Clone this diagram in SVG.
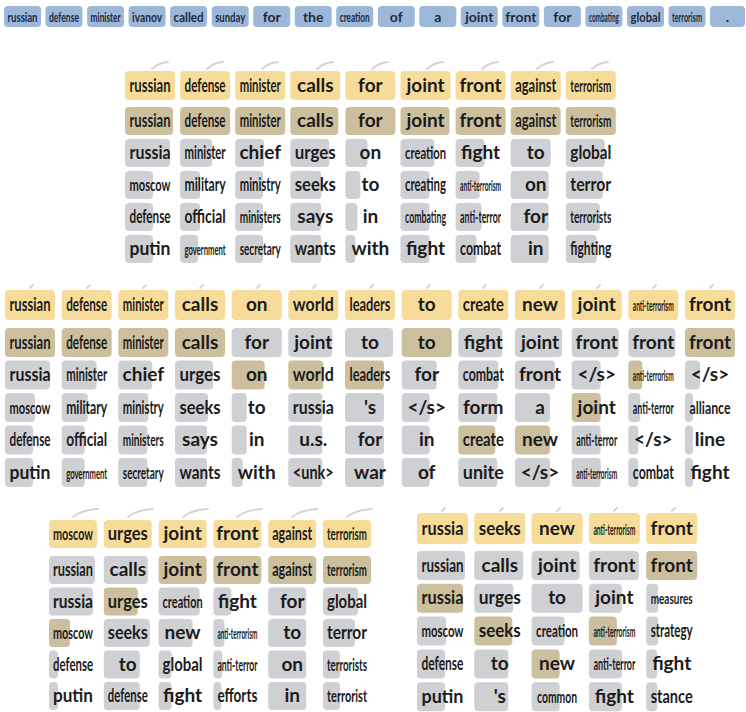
<svg xmlns="http://www.w3.org/2000/svg" width="746" height="712" viewBox="0 0 746 712">
<style>
rect{rx:4px;ry:4px}
.y{fill:#f6dc98}.t{fill:#cbbf9e}.g{fill:#cfd0d3}.bl{fill:#9db7d9}
text{font-family:Lato,"Liberation Sans",sans-serif;font-weight:700;text-anchor:middle;fill:#1b1b1b}
.w{font-size:19px}.m{font-size:17.5px}.s{font-size:15px}
.tw{font-size:14px;fill:#1d2a3e}.tm{font-size:13.5px;fill:#1d2a3e}.ts{font-size:12.5px;fill:#1d2a3e}
.arc{fill:none;stroke:#d3d3d3;stroke-width:1.8;stroke-linecap:round}
</style>
<rect width="746" height="712" fill="#ffffff" rx="0" ry="0" style="rx:0;ry:0"/>
<g id="connectors">
<path class="arc" d="M152,69 Q158,63 168,62"/><path class="arc" d="M207,69 Q213,63 223,62"/><path class="arc" d="M262,69 Q268,63 278,62"/><path class="arc" d="M317,69 Q323,63 333,62"/><path class="arc" d="M372,69 Q378,63 388,62"/><path class="arc" d="M427,69 Q433,63 443,62"/><path class="arc" d="M482,69 Q488,63 498,62"/><path class="arc" d="M537,69 Q543,63 553,62"/><path class="arc" d="M592,69 Q598,63 608,62"/>
<path class="arc" d="M30,288 L33,285"/><path class="arc" d="M87,288 L90,285"/><path class="arc" d="M143,288 L146,285"/><path class="arc" d="M200,288 L203,285"/><path class="arc" d="M257,288 L260,285"/><path class="arc" d="M313,288 L316,285"/><path class="arc" d="M370,288 L373,285"/><path class="arc" d="M427,288 L430,285"/><path class="arc" d="M483,288 L486,285"/><path class="arc" d="M540,288 L543,285"/><path class="arc" d="M597,288 L600,285"/><path class="arc" d="M653,288 L656,285"/><path class="arc" d="M710,288 L713,285"/>
<path class="arc" d="M73,517 Q81,510 98,509"/><path class="arc" d="M128,517 Q136,510 153,509"/><path class="arc" d="M183,517 Q191,510 208,509"/><path class="arc" d="M237,517 Q245,510 262,509"/><path class="arc" d="M292,517 Q300,510 317,509"/><path class="arc" d="M347,517 Q355,510 372,509"/>
<path class="arc" d="M442,511 L445,508"/><path class="arc" d="M500,511 L503,508"/><path class="arc" d="M557,511 L560,508"/><path class="arc" d="M614,511 L617,508"/><path class="arc" d="M672,511 L675,508"/>
</g>
<g id="source">
<g id="s0"><rect class="bl" x="4" y="6" width="37" height="21"/><text class="tm" x="22.5" y="21.5" textLength="30" lengthAdjust="spacingAndGlyphs">russian</text></g>
<g id="s1"><rect class="bl" x="45.5" y="6" width="37" height="21"/><text class="tm" x="64" y="21.5" textLength="30" lengthAdjust="spacingAndGlyphs">defense</text></g>
<g id="s2"><rect class="bl" x="87.1" y="6" width="37" height="21"/><text class="tm" x="105.6" y="21.5" textLength="30" lengthAdjust="spacingAndGlyphs">minister</text></g>
<g id="s3"><rect class="bl" x="128.6" y="6" width="37" height="21"/><text class="tw" x="147.1" y="21.5" textLength="30" lengthAdjust="spacingAndGlyphs">ivanov</text></g>
<g id="s4"><rect class="bl" x="170.1" y="6" width="37" height="21"/><text class="tw" x="188.6" y="21.5" textLength="30" lengthAdjust="spacingAndGlyphs">called</text></g>
<g id="s5"><rect class="bl" x="211.7" y="6" width="37" height="21"/><text class="tw" x="230.2" y="21.5" textLength="30" lengthAdjust="spacingAndGlyphs">sunday</text></g>
<g id="s6"><rect class="bl" x="253.2" y="6" width="37" height="21"/><text class="tw" x="271.7" y="21.5">for</text></g>
<g id="s7"><rect class="bl" x="294.7" y="6" width="37" height="21"/><text class="tw" x="313.2" y="21.5">the</text></g>
<g id="s8"><rect class="bl" x="336.2" y="6" width="37" height="21"/><text class="ts" x="354.7" y="21.5" textLength="30" lengthAdjust="spacingAndGlyphs">creation</text></g>
<g id="s9"><rect class="bl" x="377.8" y="6" width="37" height="21"/><text class="tw" x="396.3" y="21.5">of</text></g>
<g id="s10"><rect class="bl" x="419.3" y="6" width="37" height="21"/><text class="tw" x="437.8" y="21.5">a</text></g>
<g id="s11"><rect class="bl" x="460.8" y="6" width="37" height="21"/><text class="tw" x="479.3" y="21.5">joint</text></g>
<g id="s12"><rect class="bl" x="502.4" y="6" width="37" height="21"/><text class="tw" x="520.9" y="21.5">front</text></g>
<g id="s13"><rect class="bl" x="543.9" y="6" width="37" height="21"/><text class="tw" x="562.4" y="21.5">for</text></g>
<g id="s14"><rect class="bl" x="585.4" y="6" width="37" height="21"/><text class="ts" x="603.9" y="21.5" textLength="30" lengthAdjust="spacingAndGlyphs">combating</text></g>
<g id="s15"><rect class="bl" x="627" y="6" width="37" height="21"/><text class="tw" x="645.5" y="21.5" textLength="30" lengthAdjust="spacingAndGlyphs">global</text></g>
<g id="s16"><rect class="bl" x="668.5" y="6" width="37" height="21"/><text class="ts" x="687" y="21.5" textLength="30" lengthAdjust="spacingAndGlyphs">terrorism</text></g>
<g id="s17"><rect class="bl" x="710" y="6" width="35" height="21"/><text class="tw" x="727.5" y="21.5">.</text></g>
</g>
<g id="block1">
<g id="b1r0c0"><rect class="y" x="125" y="71" width="50" height="29"/><text class="w" x="150" y="91.5" textLength="41" lengthAdjust="spacingAndGlyphs">russian</text></g>
<g id="b1r0c1"><rect class="y" x="180.1" y="71" width="50" height="29"/><text class="w" x="205.1" y="91.5" textLength="41" lengthAdjust="spacingAndGlyphs">defense</text></g>
<g id="b1r0c2"><rect class="y" x="235.2" y="71" width="50" height="29"/><text class="w" x="260.2" y="91.5" textLength="41" lengthAdjust="spacingAndGlyphs">minister</text></g>
<g id="b1r0c3"><rect class="y" x="290.3" y="71" width="50" height="29"/><text class="w" x="315.3" y="91.5">calls</text></g>
<g id="b1r0c4"><rect class="y" x="345.4" y="71" width="50" height="29"/><text class="w" x="370.4" y="91.5">for</text></g>
<g id="b1r0c5"><rect class="y" x="400.5" y="71" width="50" height="29"/><text class="w" x="425.5" y="91.5">joint</text></g>
<g id="b1r0c6"><rect class="y" x="455.6" y="71" width="50" height="29"/><text class="w" x="480.6" y="91.5">front</text></g>
<g id="b1r0c7"><rect class="y" x="510.7" y="71" width="50" height="29"/><text class="w" x="535.7" y="91.5" textLength="41" lengthAdjust="spacingAndGlyphs">against</text></g>
<g id="b1r0c8"><rect class="y" x="565.8" y="71" width="50" height="29"/><text class="m" x="590.8" y="91.5" textLength="41" lengthAdjust="spacingAndGlyphs">terrorism</text></g>

<g id="b1r1c0"><rect class="t" x="125" y="107" width="48" height="28"/><text class="w" x="150" y="127" textLength="41" lengthAdjust="spacingAndGlyphs">russian</text></g>
<g id="b1r1c1"><rect class="t" x="180.1" y="107" width="50" height="28"/><text class="w" x="205.1" y="127" textLength="41" lengthAdjust="spacingAndGlyphs">defense</text></g>
<g id="b1r1c2"><rect class="t" x="235.2" y="107" width="50" height="28"/><text class="w" x="260.2" y="127" textLength="41" lengthAdjust="spacingAndGlyphs">minister</text></g>
<g id="b1r1c3"><rect class="t" x="290.3" y="107" width="48" height="28"/><text class="w" x="315.3" y="127">calls</text></g>
<g id="b1r1c4"><rect class="t" x="345.4" y="107" width="50" height="28"/><text class="w" x="370.4" y="127">for</text></g>
<g id="b1r1c5"><rect class="t" x="400.5" y="107" width="49" height="28"/><text class="w" x="425.5" y="127">joint</text></g>
<g id="b1r1c6"><rect class="t" x="455.6" y="107" width="50" height="28"/><text class="w" x="480.6" y="127">front</text></g>
<g id="b1r1c7"><rect class="t" x="510.7" y="107" width="50" height="28"/><text class="w" x="535.7" y="127" textLength="41" lengthAdjust="spacingAndGlyphs">against</text></g>
<g id="b1r1c8"><rect class="t" x="565.8" y="107" width="50" height="28"/><text class="m" x="590.8" y="127" textLength="41" lengthAdjust="spacingAndGlyphs">terrorism</text></g>

<g id="b1r2c0"><rect class="g" x="125" y="139" width="45" height="28"/><text class="w" x="150" y="159" textLength="41" lengthAdjust="spacingAndGlyphs">russia</text></g>
<g id="b1r2c1"><rect class="g" x="180.1" y="139" width="32" height="28"/><text class="w" x="205.1" y="159" textLength="41" lengthAdjust="spacingAndGlyphs">minister</text></g>
<g id="b1r2c2"><rect class="g" x="235.2" y="139" width="29" height="28"/><text class="w" x="260.2" y="159">chief</text></g>
<g id="b1r2c3"><rect class="g" x="290.3" y="139" width="39" height="28"/><text class="w" x="315.3" y="159" textLength="41" lengthAdjust="spacingAndGlyphs">urges</text></g>
<g id="b1r2c4"><rect class="g" x="345.4" y="139" width="22" height="28"/><text class="w" x="370.4" y="159">on</text></g>
<g id="b1r2c5"><rect class="g" x="400.5" y="139" width="34" height="28"/><text class="m" x="425.5" y="159" textLength="41" lengthAdjust="spacingAndGlyphs">creation</text></g>
<g id="b1r2c6"><rect class="g" x="455.6" y="139" width="29" height="28"/><text class="w" x="480.6" y="159">fight</text></g>
<g id="b1r2c7"><rect class="g" x="510.7" y="139" width="40" height="28"/><text class="w" x="535.7" y="159">to</text></g>
<g id="b1r2c8"><rect class="g" x="565.8" y="139" width="39" height="28"/><text class="w" x="590.8" y="159" textLength="41" lengthAdjust="spacingAndGlyphs">global</text></g>

<g id="b1r3c0"><rect class="g" x="125" y="171" width="28" height="28"/><text class="m" x="150" y="191" textLength="41" lengthAdjust="spacingAndGlyphs">moscow</text></g>
<g id="b1r3c1"><rect class="g" x="180.1" y="171" width="20" height="28"/><text class="w" x="205.1" y="191" textLength="41" lengthAdjust="spacingAndGlyphs">military</text></g>
<g id="b1r3c2"><rect class="g" x="235.2" y="171" width="28" height="28"/><text class="w" x="260.2" y="191" textLength="41" lengthAdjust="spacingAndGlyphs">ministry</text></g>
<g id="b1r3c3"><rect class="g" x="290.3" y="171" width="31" height="28"/><text class="w" x="315.3" y="191" textLength="41" lengthAdjust="spacingAndGlyphs">seeks</text></g>
<g id="b1r3c4"><rect class="g" x="345.4" y="171" width="15" height="28"/><text class="w" x="370.4" y="191">to</text></g>
<g id="b1r3c5"><rect class="g" x="400.5" y="171" width="29" height="28"/><text class="w" x="425.5" y="191" textLength="41" lengthAdjust="spacingAndGlyphs">creating</text></g>
<g id="b1r3c6"><rect class="g" x="455.6" y="171" width="24" height="28"/><text class="s" x="480.6" y="191" textLength="41" lengthAdjust="spacingAndGlyphs">anti-terrorism</text></g>
<g id="b1r3c7"><rect class="g" x="510.7" y="171" width="38" height="28"/><text class="w" x="535.7" y="191">on</text></g>
<g id="b1r3c8"><rect class="g" x="565.8" y="171" width="37" height="28"/><text class="w" x="590.8" y="191" textLength="41" lengthAdjust="spacingAndGlyphs">terror</text></g>

<g id="b1r4c0"><rect class="g" x="125" y="203" width="28" height="28"/><text class="w" x="150" y="223" textLength="41" lengthAdjust="spacingAndGlyphs">defense</text></g>
<g id="b1r4c1"><rect class="g" x="180.1" y="203" width="20" height="28"/><text class="w" x="205.1" y="223" textLength="41" lengthAdjust="spacingAndGlyphs">official</text></g>
<g id="b1r4c2"><rect class="g" x="235.2" y="203" width="28" height="28"/><text class="m" x="260.2" y="223" textLength="41" lengthAdjust="spacingAndGlyphs">ministers</text></g>
<g id="b1r4c3"><rect class="g" x="290.3" y="203" width="31" height="28"/><text class="w" x="315.3" y="223">says</text></g>
<g id="b1r4c4"><rect class="g" x="345.4" y="203" width="12" height="28"/><text class="w" x="370.4" y="223">in</text></g>
<g id="b1r4c5"><rect class="g" x="400.5" y="203" width="29" height="28"/><text class="m" x="425.5" y="223" textLength="41" lengthAdjust="spacingAndGlyphs">combating</text></g>
<g id="b1r4c6"><rect class="g" x="455.6" y="203" width="26" height="28"/><text class="m" x="480.6" y="223" textLength="41" lengthAdjust="spacingAndGlyphs">anti-terror</text></g>
<g id="b1r4c7"><rect class="g" x="510.7" y="203" width="38" height="28"/><text class="w" x="535.7" y="223">for</text></g>
<g id="b1r4c8"><rect class="g" x="565.8" y="203" width="34" height="28"/><text class="m" x="590.8" y="223" textLength="41" lengthAdjust="spacingAndGlyphs">terrorists</text></g>

<g id="b1r5c0"><rect class="g" x="125" y="235" width="28" height="28"/><text class="w" x="150" y="255" textLength="41" lengthAdjust="spacingAndGlyphs">putin</text></g>
<g id="b1r5c1"><rect class="g" x="180.1" y="235" width="18" height="28"/><text class="s" x="205.1" y="255" textLength="41" lengthAdjust="spacingAndGlyphs">government</text></g>
<g id="b1r5c2"><rect class="g" x="235.2" y="235" width="28" height="28"/><text class="m" x="260.2" y="255" textLength="41" lengthAdjust="spacingAndGlyphs">secretary</text></g>
<g id="b1r5c3"><rect class="g" x="290.3" y="235" width="31" height="28"/><text class="w" x="315.3" y="255" textLength="41" lengthAdjust="spacingAndGlyphs">wants</text></g>
<g id="b1r5c4"><rect class="g" x="345.4" y="235" width="10" height="28"/><text class="w" x="370.4" y="255">with</text></g>
<g id="b1r5c5"><rect class="g" x="400.5" y="235" width="29" height="28"/><text class="w" x="425.5" y="255">fight</text></g>
<g id="b1r5c6"><rect class="g" x="455.6" y="235" width="21" height="28"/><text class="w" x="480.6" y="255" textLength="41" lengthAdjust="spacingAndGlyphs">combat</text></g>
<g id="b1r5c7"><rect class="g" x="510.7" y="235" width="38" height="28"/><text class="w" x="535.7" y="255">in</text></g>
<g id="b1r5c8"><rect class="g" x="565.8" y="235" width="31" height="28"/><text class="w" x="590.8" y="255" textLength="41" lengthAdjust="spacingAndGlyphs">fighting</text></g>
</g>
<g id="block2">
<g id="b2r0c0"><rect class="y" x="5" y="290" width="50" height="30"/><text class="w" x="30" y="311" textLength="41" lengthAdjust="spacingAndGlyphs">russian</text></g>
<g id="b2r0c1"><rect class="y" x="61.7" y="290" width="50" height="30"/><text class="w" x="86.7" y="311" textLength="41" lengthAdjust="spacingAndGlyphs">defense</text></g>
<g id="b2r0c2"><rect class="y" x="118.3" y="290" width="50" height="30"/><text class="w" x="143.3" y="311" textLength="41" lengthAdjust="spacingAndGlyphs">minister</text></g>
<g id="b2r0c3"><rect class="y" x="175" y="290" width="50" height="30"/><text class="w" x="200" y="311">calls</text></g>
<g id="b2r0c4"><rect class="y" x="231.7" y="290" width="50" height="30"/><text class="w" x="256.7" y="311">on</text></g>
<g id="b2r0c5"><rect class="y" x="288.3" y="290" width="50" height="30"/><text class="w" x="313.3" y="311" textLength="41" lengthAdjust="spacingAndGlyphs">world</text></g>
<g id="b2r0c6"><rect class="y" x="345" y="290" width="50" height="30"/><text class="w" x="370" y="311" textLength="41" lengthAdjust="spacingAndGlyphs">leaders</text></g>
<g id="b2r0c7"><rect class="y" x="401.7" y="290" width="50" height="30"/><text class="w" x="426.7" y="311">to</text></g>
<g id="b2r0c8"><rect class="y" x="458.3" y="290" width="50" height="30"/><text class="w" x="483.3" y="311" textLength="41" lengthAdjust="spacingAndGlyphs">create</text></g>
<g id="b2r0c9"><rect class="y" x="515" y="290" width="50" height="30"/><text class="w" x="540" y="311">new</text></g>
<g id="b2r0c10"><rect class="y" x="571.7" y="290" width="50" height="30"/><text class="w" x="596.7" y="311">joint</text></g>
<g id="b2r0c11"><rect class="y" x="628.3" y="290" width="50" height="30"/><text class="s" x="653.3" y="311" textLength="41" lengthAdjust="spacingAndGlyphs">anti-terrorism</text></g>
<g id="b2r0c12"><rect class="y" x="685" y="290" width="50" height="30"/><text class="w" x="710" y="311">front</text></g>

<g id="b2r1c0"><rect class="t" x="5" y="328" width="50" height="29"/><text class="w" x="30" y="348.5" textLength="41" lengthAdjust="spacingAndGlyphs">russian</text></g>
<g id="b2r1c1"><rect class="t" x="61.7" y="328" width="50" height="29"/><text class="w" x="86.7" y="348.5" textLength="41" lengthAdjust="spacingAndGlyphs">defense</text></g>
<g id="b2r1c2"><rect class="t" x="118.3" y="328" width="50" height="29"/><text class="w" x="143.3" y="348.5" textLength="41" lengthAdjust="spacingAndGlyphs">minister</text></g>
<g id="b2r1c3"><rect class="t" x="175" y="328" width="50" height="29"/><text class="w" x="200" y="348.5">calls</text></g>
<g id="b2r1c4"><rect class="g" x="231.7" y="328" width="50" height="29"/><text class="w" x="256.7" y="348.5">for</text></g>
<g id="b2r1c5"><rect class="g" x="288.3" y="328" width="44" height="29"/><text class="w" x="313.3" y="348.5">joint</text></g>
<g id="b2r1c6"><rect class="g" x="345" y="328" width="48" height="29"/><text class="w" x="370" y="348.5">to</text></g>
<g id="b2r1c7"><rect class="t" x="401.7" y="328" width="50" height="29"/><text class="w" x="426.7" y="348.5">to</text></g>
<g id="b2r1c8"><rect class="g" x="458.3" y="328" width="44" height="29"/><text class="w" x="483.3" y="348.5">fight</text></g>
<g id="b2r1c9"><rect class="g" x="515" y="328" width="47" height="29"/><text class="w" x="540" y="348.5">joint</text></g>
<g id="b2r1c10"><rect class="g" x="571.7" y="328" width="47" height="29"/><text class="w" x="596.7" y="348.5">front</text></g>
<g id="b2r1c11"><rect class="g" x="628.3" y="328" width="47" height="29"/><text class="w" x="653.3" y="348.5">front</text></g>
<g id="b2r1c12"><rect class="t" x="685" y="328" width="50" height="29"/><text class="w" x="710" y="348.5">front</text></g>

<g id="b2r2c0"><rect class="g" x="5" y="360.5" width="45" height="29"/><text class="w" x="30" y="381" textLength="41" lengthAdjust="spacingAndGlyphs">russia</text></g>
<g id="b2r2c1"><rect class="g" x="61.7" y="360.5" width="35" height="29"/><text class="w" x="86.7" y="381" textLength="41" lengthAdjust="spacingAndGlyphs">minister</text></g>
<g id="b2r2c2"><rect class="g" x="118.3" y="360.5" width="34" height="29"/><text class="w" x="143.3" y="381">chief</text></g>
<g id="b2r2c3"><rect class="g" x="175" y="360.5" width="38" height="29"/><text class="w" x="200" y="381" textLength="41" lengthAdjust="spacingAndGlyphs">urges</text></g>
<g id="b2r2c4"><rect class="t" x="231.7" y="360.5" width="33" height="29"/><text class="w" x="256.7" y="381">on</text></g>
<g id="b2r2c5"><rect class="t" x="288.3" y="360.5" width="35" height="29"/><text class="w" x="313.3" y="381" textLength="41" lengthAdjust="spacingAndGlyphs">world</text></g>
<g id="b2r2c6"><rect class="t" x="345" y="360.5" width="39" height="29"/><text class="w" x="370" y="381" textLength="41" lengthAdjust="spacingAndGlyphs">leaders</text></g>
<g id="b2r2c7"><rect class="g" x="401.7" y="360.5" width="35" height="29"/><text class="w" x="426.7" y="381">for</text></g>
<g id="b2r2c8"><rect class="g" x="458.3" y="360.5" width="40" height="29"/><text class="w" x="483.3" y="381" textLength="41" lengthAdjust="spacingAndGlyphs">combat</text></g>
<g id="b2r2c9"><rect class="g" x="515" y="360.5" width="40" height="29"/><text class="w" x="540" y="381">front</text></g>
<g id="b2r2c10"><rect class="g" x="571.7" y="360.5" width="29" height="29"/><text class="w" x="596.7" y="381">&lt;/s&gt;</text></g>
<g id="b2r2c11"><rect class="t" x="628.3" y="360.5" width="14" height="29"/><text class="s" x="653.3" y="381" textLength="41" lengthAdjust="spacingAndGlyphs">anti-terrorism</text></g>
<g id="b2r2c12"><rect class="g" x="685" y="360.5" width="15" height="29"/><text class="w" x="710" y="381">&lt;/s&gt;</text></g>

<g id="b2r3c0"><rect class="g" x="5" y="393" width="30" height="29"/><text class="m" x="30" y="413.5" textLength="41" lengthAdjust="spacingAndGlyphs">moscow</text></g>
<g id="b2r3c1"><rect class="g" x="61.7" y="393" width="26" height="29"/><text class="w" x="86.7" y="413.5" textLength="41" lengthAdjust="spacingAndGlyphs">military</text></g>
<g id="b2r3c2"><rect class="g" x="118.3" y="393" width="30" height="29"/><text class="w" x="143.3" y="413.5" textLength="41" lengthAdjust="spacingAndGlyphs">ministry</text></g>
<g id="b2r3c3"><rect class="g" x="175" y="393" width="33" height="29"/><text class="w" x="200" y="413.5" textLength="41" lengthAdjust="spacingAndGlyphs">seeks</text></g>
<g id="b2r3c4"><rect class="g" x="231.7" y="393" width="15" height="29"/><text class="w" x="256.7" y="413.5">to</text></g>
<g id="b2r3c5"><rect class="g" x="288.3" y="393" width="34" height="29"/><text class="w" x="313.3" y="413.5" textLength="41" lengthAdjust="spacingAndGlyphs">russia</text></g>
<g id="b2r3c6"><rect class="g" x="345" y="393" width="39" height="29"/><text class="w" x="370" y="413.5">'s</text></g>
<g id="b2r3c7"><rect class="g" x="401.7" y="393" width="28" height="29"/><text class="w" x="426.7" y="413.5">&lt;/s&gt;</text></g>
<g id="b2r3c8"><rect class="g" x="458.3" y="393" width="39" height="29"/><text class="w" x="483.3" y="413.5">form</text></g>
<g id="b2r3c9"><rect class="g" x="515" y="393" width="35" height="29"/><text class="w" x="540" y="413.5">a</text></g>
<g id="b2r3c10"><rect class="t" x="571.7" y="393" width="29" height="29"/><text class="w" x="596.7" y="413.5">joint</text></g>
<g id="b2r3c11"><rect class="g" x="628.3" y="393" width="12" height="29"/><text class="m" x="653.3" y="413.5" textLength="41" lengthAdjust="spacingAndGlyphs">anti-terror</text></g>
<g id="b2r3c12"><rect class="g" x="685" y="393" width="8" height="29"/><text class="m" x="710" y="413.5" textLength="41" lengthAdjust="spacingAndGlyphs">alliance</text></g>

<g id="b2r4c0"><rect class="g" x="5" y="425.5" width="28" height="29"/><text class="w" x="30" y="446" textLength="41" lengthAdjust="spacingAndGlyphs">defense</text></g>
<g id="b2r4c1"><rect class="g" x="61.7" y="425.5" width="23" height="29"/><text class="w" x="86.7" y="446" textLength="41" lengthAdjust="spacingAndGlyphs">official</text></g>
<g id="b2r4c2"><rect class="g" x="118.3" y="425.5" width="29" height="29"/><text class="m" x="143.3" y="446" textLength="41" lengthAdjust="spacingAndGlyphs">ministers</text></g>
<g id="b2r4c3"><rect class="g" x="175" y="425.5" width="32" height="29"/><text class="w" x="200" y="446">says</text></g>
<g id="b2r4c4"><rect class="g" x="231.7" y="425.5" width="15" height="29"/><text class="w" x="256.7" y="446">in</text></g>
<g id="b2r4c5"><rect class="g" x="288.3" y="425.5" width="34" height="29"/><text class="w" x="313.3" y="446">u.s.</text></g>
<g id="b2r4c6"><rect class="g" x="345" y="425.5" width="39" height="29"/><text class="w" x="370" y="446">for</text></g>
<g id="b2r4c7"><rect class="g" x="401.7" y="425.5" width="28" height="29"/><text class="w" x="426.7" y="446">in</text></g>
<g id="b2r4c8"><rect class="t" x="458.3" y="425.5" width="37" height="29"/><text class="w" x="483.3" y="446" textLength="41" lengthAdjust="spacingAndGlyphs">create</text></g>
<g id="b2r4c9"><rect class="t" x="515" y="425.5" width="35" height="29"/><text class="w" x="540" y="446">new</text></g>
<g id="b2r4c10"><rect class="g" x="571.7" y="425.5" width="29" height="29"/><text class="m" x="596.7" y="446" textLength="41" lengthAdjust="spacingAndGlyphs">anti-terror</text></g>
<g id="b2r4c11"><rect class="g" x="628.3" y="425.5" width="10" height="29"/><text class="w" x="653.3" y="446">&lt;/s&gt;</text></g>
<g id="b2r4c12"><rect class="g" x="685" y="425.5" width="8" height="29"/><text class="w" x="710" y="446">line</text></g>

<g id="b2r5c0"><rect class="g" x="5" y="458" width="28" height="29"/><text class="w" x="30" y="478.5" textLength="41" lengthAdjust="spacingAndGlyphs">putin</text></g>
<g id="b2r5c1"><rect class="g" x="61.7" y="458" width="23" height="29"/><text class="s" x="86.7" y="478.5" textLength="41" lengthAdjust="spacingAndGlyphs">government</text></g>
<g id="b2r5c2"><rect class="g" x="118.3" y="458" width="29" height="29"/><text class="m" x="143.3" y="478.5" textLength="41" lengthAdjust="spacingAndGlyphs">secretary</text></g>
<g id="b2r5c3"><rect class="g" x="175" y="458" width="32" height="29"/><text class="w" x="200" y="478.5" textLength="41" lengthAdjust="spacingAndGlyphs">wants</text></g>
<g id="b2r5c4"><rect class="g" x="231.7" y="458" width="11" height="29"/><text class="w" x="256.7" y="478.5">with</text></g>
<g id="b2r5c5"><rect class="g" x="288.3" y="458" width="34" height="29"/><text class="w" x="313.3" y="478.5" textLength="41" lengthAdjust="spacingAndGlyphs">&lt;unk&gt;</text></g>
<g id="b2r5c6"><rect class="g" x="345" y="458" width="39" height="29"/><text class="w" x="370" y="478.5">war</text></g>
<g id="b2r5c7"><rect class="g" x="401.7" y="458" width="28" height="29"/><text class="w" x="426.7" y="478.5">of</text></g>
<g id="b2r5c8"><rect class="g" x="458.3" y="458" width="39" height="29"/><text class="w" x="483.3" y="478.5" textLength="41" lengthAdjust="spacingAndGlyphs">unite</text></g>
<g id="b2r5c9"><rect class="g" x="515" y="458" width="35" height="29"/><text class="w" x="540" y="478.5">&lt;/s&gt;</text></g>
<g id="b2r5c10"><rect class="g" x="571.7" y="458" width="29" height="29"/><text class="s" x="596.7" y="478.5" textLength="41" lengthAdjust="spacingAndGlyphs">anti-terrorism</text></g>
<g id="b2r5c11"><rect class="g" x="628.3" y="458" width="10" height="29"/><text class="w" x="653.3" y="478.5" textLength="41" lengthAdjust="spacingAndGlyphs">combat</text></g>
<g id="b2r5c12"><rect class="g" x="685" y="458" width="8" height="29"/><text class="w" x="710" y="478.5">fight</text></g>
</g>
<g id="block3">
<g id="b3r0c0"><rect class="y" x="49" y="520" width="48" height="28"/><text class="m" x="73" y="540" textLength="40" lengthAdjust="spacingAndGlyphs">moscow</text></g>
<g id="b3r0c1"><rect class="y" x="103.8" y="520" width="48" height="28"/><text class="w" x="127.8" y="540" textLength="40" lengthAdjust="spacingAndGlyphs">urges</text></g>
<g id="b3r0c2"><rect class="y" x="158.6" y="520" width="48" height="28"/><text class="w" x="182.6" y="540">joint</text></g>
<g id="b3r0c3"><rect class="y" x="213.4" y="520" width="48" height="28"/><text class="w" x="237.4" y="540">front</text></g>
<g id="b3r0c4"><rect class="y" x="268.2" y="520" width="48" height="28"/><text class="w" x="292.2" y="540" textLength="40" lengthAdjust="spacingAndGlyphs">against</text></g>
<g id="b3r0c5"><rect class="y" x="323" y="520" width="48" height="28"/><text class="m" x="347" y="540" textLength="40" lengthAdjust="spacingAndGlyphs">terrorism</text></g>

<g id="b3r1c0"><rect class="g" x="49" y="556" width="46" height="28"/><text class="w" x="73" y="576" textLength="40" lengthAdjust="spacingAndGlyphs">russian</text></g>
<g id="b3r1c1"><rect class="g" x="103.8" y="556" width="44" height="28"/><text class="w" x="127.8" y="576">calls</text></g>
<g id="b3r1c2"><rect class="t" x="158.6" y="556" width="48" height="28"/><text class="w" x="182.6" y="576">joint</text></g>
<g id="b3r1c3"><rect class="t" x="213.4" y="556" width="48" height="28"/><text class="w" x="237.4" y="576">front</text></g>
<g id="b3r1c4"><rect class="t" x="268.2" y="556" width="48" height="28"/><text class="w" x="292.2" y="576" textLength="40" lengthAdjust="spacingAndGlyphs">against</text></g>
<g id="b3r1c5"><rect class="t" x="323" y="556" width="48" height="28"/><text class="m" x="347" y="576" textLength="40" lengthAdjust="spacingAndGlyphs">terrorism</text></g>

<g id="b3r2c0"><rect class="g" x="49" y="587.5" width="44" height="28"/><text class="w" x="73" y="607.5" textLength="40" lengthAdjust="spacingAndGlyphs">russia</text></g>
<g id="b3r2c1"><rect class="t" x="103.8" y="587.5" width="34" height="28"/><text class="w" x="127.8" y="607.5" textLength="40" lengthAdjust="spacingAndGlyphs">urges</text></g>
<g id="b3r2c2"><rect class="g" x="158.6" y="587.5" width="41" height="28"/><text class="m" x="182.6" y="607.5" textLength="40" lengthAdjust="spacingAndGlyphs">creation</text></g>
<g id="b3r2c3"><rect class="g" x="213.4" y="587.5" width="18" height="28"/><text class="w" x="237.4" y="607.5">fight</text></g>
<g id="b3r2c4"><rect class="g" x="268.2" y="587.5" width="38" height="28"/><text class="w" x="292.2" y="607.5">for</text></g>
<g id="b3r2c5"><rect class="g" x="323" y="587.5" width="35" height="28"/><text class="w" x="347" y="607.5" textLength="40" lengthAdjust="spacingAndGlyphs">global</text></g>

<g id="b3r3c0"><rect class="t" x="49" y="619" width="21" height="28"/><text class="m" x="73" y="639" textLength="40" lengthAdjust="spacingAndGlyphs">moscow</text></g>
<g id="b3r3c1"><rect class="g" x="103.8" y="619" width="46" height="28"/><text class="w" x="127.8" y="639" textLength="40" lengthAdjust="spacingAndGlyphs">seeks</text></g>
<g id="b3r3c2"><rect class="g" x="158.6" y="619" width="34" height="28"/><text class="w" x="182.6" y="639">new</text></g>
<g id="b3r3c3"><rect class="g" x="213.4" y="619" width="11" height="28"/><text class="s" x="237.4" y="639" textLength="40" lengthAdjust="spacingAndGlyphs">anti-terrorism</text></g>
<g id="b3r3c4"><rect class="g" x="268.2" y="619" width="38" height="28"/><text class="w" x="292.2" y="639">to</text></g>
<g id="b3r3c5"><rect class="g" x="323" y="619" width="32" height="28"/><text class="w" x="347" y="639" textLength="40" lengthAdjust="spacingAndGlyphs">terror</text></g>

<g id="b3r4c0"><rect class="g" x="49" y="650.5" width="9" height="28"/><text class="w" x="73" y="670.5" textLength="40" lengthAdjust="spacingAndGlyphs">defense</text></g>
<g id="b3r4c1"><rect class="g" x="103.8" y="650.5" width="36" height="28"/><text class="w" x="127.8" y="670.5">to</text></g>
<g id="b3r4c2"><rect class="g" x="158.6" y="650.5" width="13" height="28"/><text class="w" x="182.6" y="670.5" textLength="40" lengthAdjust="spacingAndGlyphs">global</text></g>
<g id="b3r4c3"><rect class="g" x="213.4" y="650.5" width="9" height="28"/><text class="m" x="237.4" y="670.5" textLength="40" lengthAdjust="spacingAndGlyphs">anti-terror</text></g>
<g id="b3r4c4"><rect class="g" x="268.2" y="650.5" width="38" height="28"/><text class="w" x="292.2" y="670.5">on</text></g>
<g id="b3r4c5"><rect class="g" x="323" y="650.5" width="17" height="28"/><text class="m" x="347" y="670.5" textLength="40" lengthAdjust="spacingAndGlyphs">terrorists</text></g>

<g id="b3r5c0"><rect class="g" x="49" y="682" width="9" height="28"/><text class="w" x="73" y="702" textLength="40" lengthAdjust="spacingAndGlyphs">putin</text></g>
<g id="b3r5c1"><rect class="g" x="103.8" y="682" width="36" height="28"/><text class="w" x="127.8" y="702" textLength="40" lengthAdjust="spacingAndGlyphs">defense</text></g>
<g id="b3r5c2"><rect class="g" x="158.6" y="682" width="13" height="28"/><text class="w" x="182.6" y="702">fight</text></g>
<g id="b3r5c3"><rect class="g" x="213.4" y="682" width="8" height="28"/><text class="w" x="237.4" y="702" textLength="40" lengthAdjust="spacingAndGlyphs">efforts</text></g>
<g id="b3r5c4"><rect class="g" x="268.2" y="682" width="38" height="28"/><text class="w" x="292.2" y="702">in</text></g>
<g id="b3r5c5"><rect class="g" x="323" y="682" width="17" height="28"/><text class="m" x="347" y="702" textLength="40" lengthAdjust="spacingAndGlyphs">terrorist</text></g>
</g>
<g id="block4">
<g id="b4r0c0"><rect class="y" x="417" y="513" width="51" height="31"/><text class="w" x="442.5" y="535" textLength="42" lengthAdjust="spacingAndGlyphs">russia</text></g>
<g id="b4r0c1"><rect class="y" x="474.3" y="513" width="51" height="31"/><text class="w" x="499.8" y="535" textLength="42" lengthAdjust="spacingAndGlyphs">seeks</text></g>
<g id="b4r0c2"><rect class="y" x="531.6" y="513" width="51" height="31"/><text class="w" x="557.1" y="535">new</text></g>
<g id="b4r0c3"><rect class="y" x="588.9" y="513" width="51" height="31"/><text class="s" x="614.4" y="535" textLength="42" lengthAdjust="spacingAndGlyphs">anti-terrorism</text></g>
<g id="b4r0c4"><rect class="y" x="646.2" y="513" width="51" height="31"/><text class="w" x="671.7" y="535">front</text></g>

<g id="b4r1c0"><rect class="g" x="417" y="551" width="48" height="29"/><text class="w" x="442.5" y="571.5" textLength="42" lengthAdjust="spacingAndGlyphs">russian</text></g>
<g id="b4r1c1"><rect class="g" x="474.3" y="551" width="49" height="29"/><text class="w" x="499.8" y="571.5">calls</text></g>
<g id="b4r1c2"><rect class="g" x="531.6" y="551" width="48" height="29"/><text class="w" x="557.1" y="571.5">joint</text></g>
<g id="b4r1c3"><rect class="g" x="588.9" y="551" width="50" height="29"/><text class="w" x="614.4" y="571.5">front</text></g>
<g id="b4r1c4"><rect class="t" x="646.2" y="551" width="51" height="29"/><text class="w" x="671.7" y="571.5">front</text></g>

<g id="b4r2c0"><rect class="t" x="417" y="583.8" width="46" height="29"/><text class="w" x="442.5" y="604.3" textLength="42" lengthAdjust="spacingAndGlyphs">russia</text></g>
<g id="b4r2c1"><rect class="g" x="474.3" y="583.8" width="39" height="29"/><text class="w" x="499.8" y="604.3" textLength="42" lengthAdjust="spacingAndGlyphs">urges</text></g>
<g id="b4r2c2"><rect class="g" x="531.6" y="583.8" width="51" height="29"/><text class="w" x="557.1" y="604.3">to</text></g>
<g id="b4r2c3"><rect class="g" x="588.9" y="583.8" width="33" height="29"/><text class="w" x="614.4" y="604.3">joint</text></g>
<g id="b4r2c4"><rect class="g" x="646.2" y="583.8" width="12" height="29"/><text class="s" x="671.7" y="604.3" textLength="42" lengthAdjust="spacingAndGlyphs">measures</text></g>

<g id="b4r3c0"><rect class="g" x="417" y="616.6" width="29" height="29"/><text class="m" x="442.5" y="637.1" textLength="42" lengthAdjust="spacingAndGlyphs">moscow</text></g>
<g id="b4r3c1"><rect class="t" x="474.3" y="616.6" width="38" height="29"/><text class="w" x="499.8" y="637.1" textLength="42" lengthAdjust="spacingAndGlyphs">seeks</text></g>
<g id="b4r3c2"><rect class="g" x="531.6" y="616.6" width="33" height="29"/><text class="m" x="557.1" y="637.1" textLength="42" lengthAdjust="spacingAndGlyphs">creation</text></g>
<g id="b4r3c3"><rect class="t" x="588.9" y="616.6" width="28" height="29"/><text class="s" x="614.4" y="637.1" textLength="42" lengthAdjust="spacingAndGlyphs">anti-terrorism</text></g>
<g id="b4r3c4"><rect class="g" x="646.2" y="616.6" width="12" height="29"/><text class="w" x="671.7" y="637.1" textLength="42" lengthAdjust="spacingAndGlyphs">strategy</text></g>

<g id="b4r4c0"><rect class="g" x="417" y="649.4" width="28" height="29"/><text class="w" x="442.5" y="669.9" textLength="42" lengthAdjust="spacingAndGlyphs">defense</text></g>
<g id="b4r4c1"><rect class="g" x="474.3" y="649.4" width="34" height="29"/><text class="w" x="499.8" y="669.9">to</text></g>
<g id="b4r4c2"><rect class="t" x="531.6" y="649.4" width="28" height="29"/><text class="w" x="557.1" y="669.9">new</text></g>
<g id="b4r4c3"><rect class="g" x="588.9" y="649.4" width="33" height="29"/><text class="m" x="614.4" y="669.9" textLength="42" lengthAdjust="spacingAndGlyphs">anti-terror</text></g>
<g id="b4r4c4"><rect class="g" x="646.2" y="649.4" width="11" height="29"/><text class="w" x="671.7" y="669.9">fight</text></g>

<g id="b4r5c0"><rect class="g" x="417" y="682.2" width="28" height="29"/><text class="w" x="442.5" y="702.7" textLength="42" lengthAdjust="spacingAndGlyphs">putin</text></g>
<g id="b4r5c1"><rect class="g" x="474.3" y="682.2" width="34" height="29"/><text class="w" x="499.8" y="702.7">'s</text></g>
<g id="b4r5c2"><rect class="g" x="531.6" y="682.2" width="28" height="29"/><text class="m" x="557.1" y="702.7" textLength="40" lengthAdjust="spacingAndGlyphs">common</text></g>
<g id="b4r5c3"><rect class="g" x="588.9" y="682.2" width="33" height="29"/><text class="w" x="614.4" y="702.7">fight</text></g>
<g id="b4r5c4"><rect class="g" x="646.2" y="682.2" width="11" height="29"/><text class="w" x="671.7" y="702.7" textLength="42" lengthAdjust="spacingAndGlyphs">stance</text></g>
</g>
</svg>
